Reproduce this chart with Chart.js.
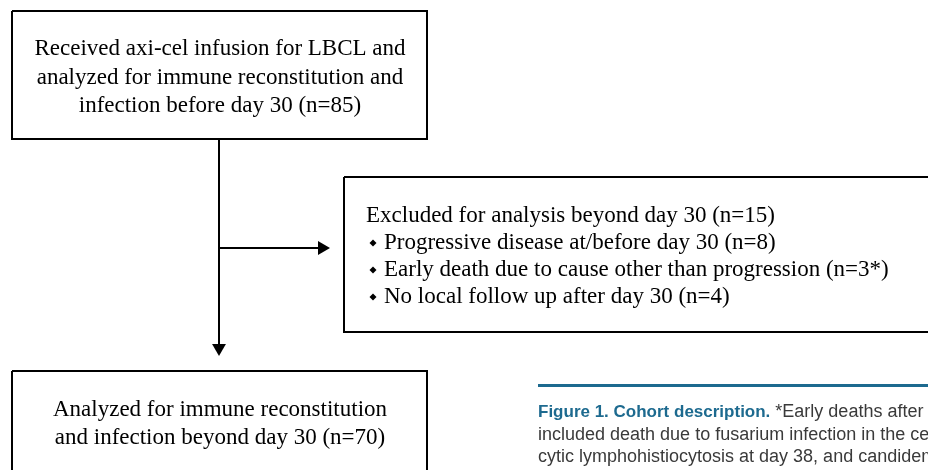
<!DOCTYPE html>
<html>
<head>
<meta charset="utf-8">
<script src="https://cdn.jsdelivr.net/npm/chart.js@4.4.1/dist/chart.umd.min.js"></script>
<style>
  html, body { margin: 0; padding: 0; background: #fff; }
  #wrap { width: 928px; height: 470px; }
</style>
</head>
<body>
<div id="wrap"><canvas id="flow" width="928" height="470"></canvas></div>
<script>
// cohort counts
var nInfused = 85;
var nExcluded = 15;
var excludedReasons = ['Progressive disease at/before day 30', 'Early death due to cause other than progression', 'No local follow up after day 30'];
var excludedCounts = ['8', '3*', '4'];
var nAnalyzed = 70;

var topBoxLines = ['Received axi-cel infusion for LBCL and', 'analyzed for immune reconstitution and', 'infection before day 30 (n=' + nInfused + ')'];
var sideBoxTitle = 'Excluded for analysis beyond day 30 (n=' + nExcluded + ')';
var bottomBoxLines = ['Analyzed for immune reconstitution', 'and infection beyond day 30 (n=' + nAnalyzed + ')'];

var captionTitle = 'Figure 1. Cohort description.';
var captionLines = ' *Early deaths after';
var captionMore = ['included death due to fusarium infection in the cer', 'cytic lymphohistiocytosis at day 38, and candidem'];

// layout in plot units (x: 0..928, y: 0..470 top-down)
var topBox = { x1: 12, y1: 11, x2: 427, y2: 139 };
var sideBox = { x1: 344, y1: 177, x2: 940, y2: 332 };
var bottomBox = { x1: 12, y1: 371, x2: 427, y2: 480 };
var trunkX = 219;
var branchY = 248;
var reasonBaseline = 249;
var reasonStep = 27;

function boxPath(b) {
    return [
        { x: b.x1, y: b.y1 }, { x: b.x2, y: b.y1 },
        { x: b.x2, y: b.y2 }, { x: b.x1, y: b.y2 },
        { x: b.x1, y: b.y1 }
    ];
}

function boxDataset(b) {
    return {
        type: 'line',
        data: boxPath(b),
        borderColor: '#000',
        borderWidth: 2,
        pointRadius: 0,
        borderJoinStyle: 'miter',
        tension: 0,
        clip: false
    };
}

function arrowDataset(from, to, rotation) {
    return {
        type: 'line',
        data: [from, to],
        borderColor: '#000',
        borderWidth: 2,
        pointStyle: 'triangle',
        pointRadius: [0, 8],
        pointRotation: [0, rotation],
        pointBackgroundColor: '#000',
        pointBorderColor: '#000',
        pointBorderWidth: 0,
        clip: false
    };
}

// one bullet per excluded reason, centred on the x-height
var bulletPoints = excludedReasons.map(function(r, i) {
    return { x: 373, y: reasonBaseline + i * reasonStep - 6 };
});

var textPlugin = {
    id: 'flowText',
    afterDatasetsDraw: function(chart) {
        var ctx = chart.ctx;
        var xs = chart.scales.x;
        var ys = chart.scales.y;
        var i;
        ctx.save();
        ctx.fillStyle = '#000';
        ctx.textBaseline = 'alphabetic';
        ctx.font = '23px "Liberation Serif", "Times New Roman", serif';

        ctx.textAlign = 'center';
        for (i = 0; i < topBoxLines.length; i++) {
            ctx.fillText(topBoxLines[i], xs.getPixelForValue(220), ys.getPixelForValue(55 + i * 28.5));
        }
        for (i = 0; i < bottomBoxLines.length; i++) {
            ctx.fillText(bottomBoxLines[i], xs.getPixelForValue(220), ys.getPixelForValue(416 + i * 28));
        }

        ctx.textAlign = 'left';
        ctx.fillText(sideBoxTitle, xs.getPixelForValue(366), ys.getPixelForValue(reasonBaseline - reasonStep));
        for (i = 0; i < excludedReasons.length; i++) {
            ctx.fillText(excludedReasons[i] + ' (n=' + excludedCounts[i] + ')', xs.getPixelForValue(384), ys.getPixelForValue(reasonBaseline + i * reasonStep));
        }

        // caption
        ctx.fillStyle = '#1d6a8f';
        ctx.fillRect(xs.getPixelForValue(538), ys.getPixelForValue(384), 400, 3);
        ctx.font = 'bold 17px "Liberation Sans", Arial, sans-serif';
        var cx = xs.getPixelForValue(538);
        ctx.fillText(captionTitle, cx, ys.getPixelForValue(417));
        var w = ctx.measureText(captionTitle).width;
        ctx.fillStyle = '#3a3a3a';
        ctx.font = '18px "Liberation Sans", Arial, sans-serif';
        ctx.fillText(captionLines, cx + w, ys.getPixelForValue(417));
        ctx.fillText(captionMore[0], cx, ys.getPixelForValue(440));
        ctx.fillText(captionMore[1], cx, ys.getPixelForValue(462));
        ctx.restore();
    }
};

new Chart(document.getElementById('flow'), {
    type: 'scatter',
    data: {
        datasets: [
            boxDataset(topBox),
            boxDataset(sideBox),
            boxDataset(bottomBox),
            arrowDataset({ x: trunkX, y: topBox.y2 }, { x: trunkX, y: 348 }, 180),
            arrowDataset({ x: trunkX, y: branchY }, { x: 322, y: branchY }, 90),
            {
                type: 'scatter',
                data: bulletPoints,
                pointStyle: 'rectRot',
                pointRadius: 3.5,
                pointBackgroundColor: '#000',
                pointBorderWidth: 0,
                clip: false
            }
        ]
    },
    options: {
        responsive: false,
        animation: false,
        events: [],
        layout: { padding: 0, autoPadding: false },
        plugins: { legend: { display: false }, tooltip: { enabled: false } },
        scales: {
            x: { type: 'linear', min: 0, max: 928, display: false },
            y: { type: 'linear', min: 0, max: 470, reverse: true, display: false }
        }
    },
    plugins: [textPlugin]
});
</script>
</body>
</html>
